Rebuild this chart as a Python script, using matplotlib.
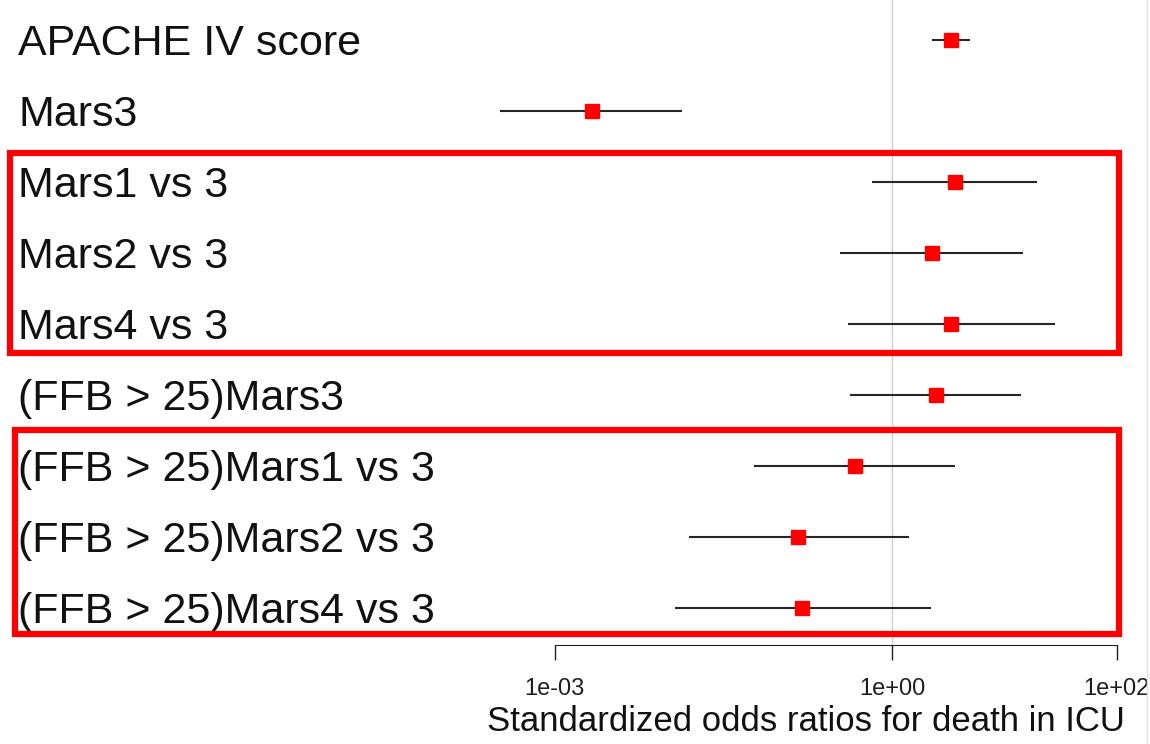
import matplotlib
matplotlib.use('Agg')
import matplotlib.pyplot as plt
import matplotlib.patches as mpatches
import matplotlib.transforms as mtransforms
import matplotlib.lines as mlines
import numpy as np

plt.rcParams['font.family'] = ['Liberation Sans', 'DejaVu Sans']

# forest plot data (odds ratio + 95% CI)
labels = ['APACHE IV score', 'Mars3', 'Mars1 vs 3', 'Mars2 vs 3', 'Mars4 vs 3',
          '(FFB > 25)Mars3', '(FFB > 25)Mars1 vs 3', '(FFB > 25)Mars2 vs 3',
          '(FFB > 25)Mars4 vs 3']
odds = [3.35, 0.00214, 3.63, 2.27, 3.35, 2.46, 0.469, 0.146, 0.158]
lower = [2.27, 0.000325, 0.664, 0.344, 0.406, 0.423, 0.0592, 0.0156, 0.0117]
upper = [4.94, 0.0135, 19.5, 14.6, 28.2, 14.1, 3.63, 1.42, 2.22]

tick_vals = [1e-3, 1e0, 1e2]
tick_labels = ['1e-03', '1e+00', '1e+02']

# groups of rows that get a red box around them
boxed_groups = [(2, 4), (6, 8)]

fig = plt.figure(figsize=(11.5, 7.44), dpi=100)
ax = fig.add_axes([0, 0.133, 1, 0.867])

rows = np.arange(len(labels))
ax.set_xscale('log')
ax.set_xlim(10 ** -7.936, 10 ** 2.295)
ax.set_ylim(8.52, -0.563)

# reference line at OR = 1
ax.axvline(1, color='#d0d0d0', linewidth=1.0, zorder=0)

# confidence intervals and point estimates
ax.hlines(rows, lower, upper, color='#262626', linewidth=1.5, zorder=2)
ax.plot(odds, rows, 's', color='#ff0000', markersize=10, zorder=3)

# row labels on the left
trans = mtransforms.blended_transform_factory(ax.transAxes, ax.transData)
for i, lab in enumerate(labels):
    ax.text(0.0157, i + 0.05, lab, transform=trans, fontsize=31, ha='left',
            va='center', color='#111111')

# red highlight boxes (top offset, bottom offset, left edge)
box_pad = [(-0.41, 0.41, 0.0087), (-0.51, 0.37, 0.013)]
for (first, last), (dt, db, x0) in zip(boxed_groups, box_pad):
    top = first + dt
    bottom = last + db
    rect = mpatches.Rectangle((x0, top), 0.973 - x0, bottom - top,
                              transform=trans, fill=False,
                              edgecolor='#ff0000', linewidth=4.5,
                              clip_on=False, zorder=4)
    ax.add_patch(rect)

# faint border line at the right edge
fig.add_artist(mlines.Line2D([0.9974, 0.9974], [0, 1], color='#e2e2e2',
                             linewidth=1.0, transform=fig.transFigure))

# x axis only between 1e-03 and 1e+02
for s in ['top', 'right', 'left']:
    ax.spines[s].set_visible(False)
ax.spines['bottom'].set_bounds(1e-3, 1e2)
ax.spines['bottom'].set_color('#202020')
ax.set_yticks([])
ax.set_xticks(tick_vals)
ax.set_xticklabels(tick_labels)
ax.minorticks_off()
ax.tick_params(axis='x', length=11, width=1.0, color='#202020',
               labelsize=17, pad=13, labelcolor='#202020')
ax.set_xlabel('Standardized odds ratios for death in ICU', fontsize=25,
              color='#111111', va='center')
ax.xaxis.set_label_coords(0.701, -0.119)

fig.savefig('out.png', dpi=100, facecolor='white')
